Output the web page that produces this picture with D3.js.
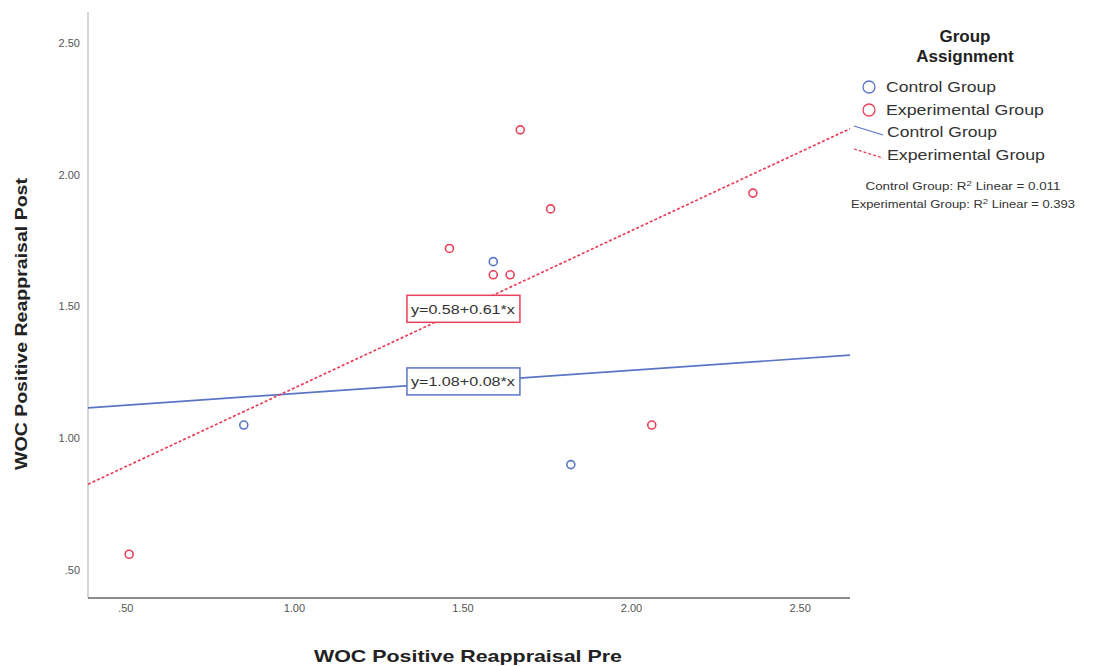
<!DOCTYPE html>
<html>
<head>
<meta charset="utf-8">
<script src="https://cdn.jsdelivr.net/npm/d3@7"></script>
<style>
  body { margin: 0; background: #fff; }
  text { font-family: "Liberation Sans", Arial, sans-serif; }
  .tick-label { font-family: "Liberation Sans Narrow", "Liberation Sans", Arial, sans-serif; }
</style>
</head>
<body>
<svg id="chart" width="1104" height="666"></svg>
<script>
// values
const controlPre = [0.85, 1.59, 1.82];
const controlPost = [1.05, 1.67, 0.90];
const expPre = [0.51, 1.46, 1.59, 1.64, 1.67, 1.76, 2.06, 2.36];
const expPost = [0.56, 1.72, 1.62, 1.62, 2.17, 1.87, 1.05, 1.93];
const xTicks = [0.5, 1.0, 1.5, 2.0, 2.5];
const yTicks = [0.5, 1.0, 1.5, 2.0, 2.5];
const groupNames = ['Control Group', 'Experimental Group'];
const fitLabels = ['y=1.08+0.08*x', 'y=0.58+0.61*x'];
const r2Labels = ['0.011', '0.393'];

const blue = '#5a75c6';
const red = '#e8405a';

const svg = d3.select('#chart');
const plotLeft = 88, plotRight = 850, plotTop = 12, plotBottom = 598;

const x = d3.scaleLinear().domain([0.388, 2.648]).range([plotLeft, plotRight]);
const y = d3.scaleLinear().domain([0.394, 2.617]).range([plotBottom, plotTop]);

const fmt = v => {
  let s = v.toFixed(2);
  return s.startsWith('0') ? s.slice(1) : s;
};

function fit(xs, ys) {
  const mx = d3.mean(xs), my = d3.mean(ys);
  let sxy = 0, sxx = 0;
  xs.forEach((v, i) => { sxy += (v - mx) * (ys[i] - my); sxx += (v - mx) * (v - mx); });
  const b = sxy / sxx;
  return { a: my - b * mx, b: b };
}

const groups = [
  { name: groupNames[0], pre: controlPre, post: controlPost, color: blue, dash: null, label: fitLabels[0], nameLen: 110, r2Len: 195 },
  { name: groupNames[1], pre: expPre, post: expPost, color: red, dash: '3,2', label: fitLabels[1], nameLen: 158, r2Len: 224 }
];

// axes
svg.append('line')
  .attr('x1', plotLeft).attr('x2', plotLeft).attr('y1', plotTop).attr('y2', plotBottom)
  .attr('stroke', '#c8c8c8').attr('stroke-width', 1.5);
svg.append('line')
  .attr('x1', plotLeft).attr('x2', plotRight).attr('y1', plotBottom).attr('y2', plotBottom)
  .attr('stroke', '#666').attr('stroke-width', 1.5);

svg.selectAll('.xt').data(xTicks).enter().append('text')
  .attr('class', 'tick-label')
  .attr('x', d => x(d)).attr('y', plotBottom + 14)
  .attr('text-anchor', 'middle').attr('font-size', 11).attr('fill', '#555')
  .text(fmt);
svg.selectAll('.yt').data(yTicks).enter().append('text')
  .attr('class', 'tick-label')
  .attr('x', plotLeft - 8).attr('y', d => y(d) + 4)
  .attr('text-anchor', 'end').attr('font-size', 11).attr('fill', '#555')
  .text(fmt);

svg.append('text')
  .attr('x', 314).attr('y', 662)
  .attr('font-size', 17).attr('font-weight', 'bold')
  .attr('textLength', 308).attr('lengthAdjust', 'spacingAndGlyphs')
  .attr('fill', '#222')
  .text('WOC Positive Reappraisal Pre');
svg.append('text')
  .attr('transform', 'translate(27,470) rotate(-90)')
  .attr('font-size', 17).attr('font-weight', 'bold')
  .attr('textLength', 292).attr('lengthAdjust', 'spacingAndGlyphs')
  .attr('fill', '#222')
  .text('WOC Positive Reappraisal Post');

// fit lines, then points and equation boxes
const plot = svg.append('g');
groups.forEach(g => {
  const f = fit(g.pre, g.post);
  const xd = x.domain();
  plot.append('line')
    .attr('x1', x(xd[0])).attr('y1', y(f.a + f.b * xd[0]))
    .attr('x2', x(xd[1])).attr('y2', y(f.a + f.b * xd[1]))
    .attr('stroke', g.color).attr('stroke-width', 1.7)
    .attr('stroke-dasharray', g.dash);
  g.fit = f;
});

groups.forEach(g => {
  plot.selectAll(null).data(g.pre.map((v, i) => [v, g.post[i]])).enter().append('circle')
    .attr('cx', d => x(d[0])).attr('cy', d => y(d[1])).attr('r', 4)
    .attr('fill', 'none').attr('stroke', g.color).attr('stroke-width', 1.6);
});

groups.forEach(g => {
  const cx = x(1.5), cy = y(g.fit.a + g.fit.b * 1.5);
  const box = plot.append('g').attr('transform', `translate(${cx},${cy})`);
  box.append('rect')
    .attr('x', -56).attr('y', -14).attr('width', 113).attr('height', 27)
    .attr('fill', '#fff').attr('stroke', g.color).attr('stroke-width', 1.5);
  box.append('text')
    .attr('class', 'tick-label')
    .attr('x', -52).attr('y', 4.5).attr('font-size', 13)
    .attr('textLength', 104).attr('lengthAdjust', 'spacingAndGlyphs')
    .attr('fill', '#333')
    .text(g.label);
});

// legend
const lg = svg.append('g');
lg.append('text').attr('x', 965).attr('y', 42)
  .attr('text-anchor', 'middle').attr('font-size', 17).attr('font-weight', 'bold').attr('fill', '#222')
  .text('Group');
lg.append('text').attr('x', 965).attr('y', 62)
  .attr('text-anchor', 'middle').attr('font-size', 17).attr('font-weight', 'bold').attr('fill', '#222')
  .text('Assignment');

groups.forEach((g, i) => {
  const yy = 87 + i * 23;
  lg.append('circle').attr('cx', 869).attr('cy', yy).attr('r', 6)
    .attr('fill', 'none').attr('stroke', g.color).attr('stroke-width', 1.3);
  lg.append('text').attr('x', 886).attr('y', yy + 5).attr('font-size', 15).attr('fill', '#333')
    .attr('textLength', g.nameLen).attr('lengthAdjust', 'spacingAndGlyphs')
    .text(g.name);
});
groups.forEach((g, i) => {
  const yy = 132 + i * 23;
  lg.append('line').attr('x1', 854).attr('y1', yy - 6).attr('x2', 883).attr('y2', yy + 3)
    .attr('stroke', g.color).attr('stroke-width', 1.3).attr('stroke-dasharray', g.dash);
  lg.append('text').attr('x', 887).attr('y', yy + 5).attr('font-size', 15).attr('fill', '#333')
    .attr('textLength', g.nameLen).attr('lengthAdjust', 'spacingAndGlyphs')
    .text(g.name);
});

groups.forEach((g, i) => {
  const t = lg.append('text').attr('x', 963 - g.r2Len / 2).attr('y', 190 + i * 18)
    .attr('font-size', 11).attr('fill', '#333')
    .attr('textLength', g.r2Len).attr('lengthAdjust', 'spacingAndGlyphs');
  t.append('tspan').text(g.name + ': R');
  t.append('tspan').attr('dy', -4).attr('font-size', 8).text('2');
  t.append('tspan').attr('dy', 4).text(' Linear = ' + r2Labels[i]);
});
</script>
</body>
</html>
